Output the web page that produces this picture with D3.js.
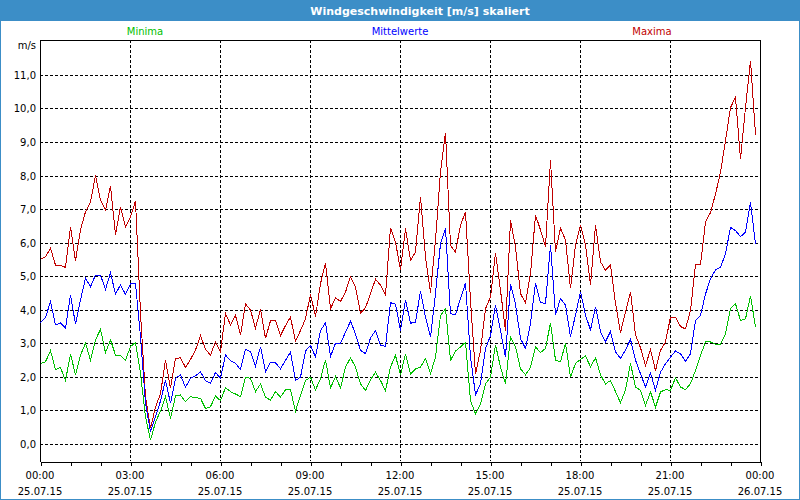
<!DOCTYPE html>
<html>
<head>
<meta charset="utf-8">
<script src="https://cdn.jsdelivr.net/npm/d3@7"></script>
<style>
  html, body { margin: 0; padding: 0; background: #fff; }
  svg { display: block; font-family: "DejaVu Sans", Tahoma, sans-serif; }
</style>
</head>
<body>
<div id="chart"></div>
<script>
// ── Data (10-minute values, 25.07.15 00:00 – 23:50) ───────────────────

const maxima = [
  5.5, 5.58, 5.83, 5.33, 5.33, 5.26, 6.47, 5.46, 6.38, 6.92, 7.22, 8.0, 7.27, 6.97, 7.69, 6.23, 7.07, 6.47, 6.77, 7.24, 3.9, 1.4, 0.47, 1.1, 1.5,
  2.5, 1.66, 2.55, 2.57, 2.28, 2.52, 2.8, 3.23, 2.82, 2.65, 3.05, 2.75, 3.89, 3.55, 3.83, 3.25, 4.17, 3.99, 3.45, 4.02, 3.15, 3.67, 3.67, 3.23,
  3.53, 3.78, 3.06, 3.38, 3.73, 4.46, 3.8, 4.78, 5.4, 4.03, 4.35, 4.25, 4.53, 4.98, 4.68, 3.9, 4.06, 4.48, 4.91, 4.73, 4.43, 6.44, 6.02, 5.19,
  6.42, 5.47, 5.72, 7.36, 5.57, 4.5, 6.07, 8.11, 9.28, 5.92, 5.72, 6.52, 6.92, 4.28, 2.09, 2.79, 4.03, 4.38, 5.69, 4.58, 3.38, 6.67, 5.87, 4.48,
  4.21, 5.08, 6.82, 6.38, 5.88, 8.46, 5.73, 6.43, 6.08, 4.64, 5.93, 6.52, 5.93, 4.74, 6.52, 5.43, 5.18, 5.33, 4.19, 3.32, 3.94, 4.54, 3.25, 2.87,
  2.34, 2.81, 2.19, 2.79, 3.04, 3.78, 3.78, 3.5, 3.43, 3.98, 5.35, 5.35, 6.61, 6.9, 7.45, 8.1, 9.04, 10.03, 10.33, 8.49, 10.03, 11.42, 9.22
];

const mittelwerte = [
  3.61, 3.77, 4.24, 3.55, 3.61, 3.45, 4.44, 3.57, 4.29, 4.94, 4.69, 5.03, 5.03, 4.61, 5.1, 4.47, 4.74, 4.46, 4.77, 4.79, 3.2, 1.21, 0.37, 0.81, 1.28,
  1.9, 1.21, 1.96, 2.06, 1.69, 1.96, 2.03, 2.15, 1.89, 1.81, 2.13, 1.96, 2.65, 2.48, 2.4, 2.22, 2.82, 2.75, 2.32, 2.9, 2.15, 2.43, 2.42, 2.24,
  2.49, 2.74, 1.89, 1.99, 2.77, 2.94, 2.59, 3.38, 3.61, 2.61, 3.0, 3.0, 3.33, 3.66, 3.28, 2.79, 2.69, 3.16, 3.38, 2.94, 2.91, 4.21, 4.17, 3.38,
  4.3, 3.6, 3.63, 4.56, 3.78, 3.18, 4.48, 5.97, 6.42, 3.88, 3.86, 4.33, 4.8, 2.59, 1.47, 1.79, 2.84, 3.23, 4.13, 3.38, 2.59, 4.78, 4.16, 3.14,
  2.85, 3.59, 4.79, 4.21, 4.19, 5.93, 3.84, 4.34, 4.14, 3.2, 3.84, 4.54, 3.84, 3.4, 4.09, 3.35, 3.05, 3.35, 2.75, 2.55, 2.8, 3.12, 2.5, 2.09,
  1.7, 2.11, 1.6, 2.14, 2.39, 2.59, 2.77, 2.69, 2.47, 2.69, 3.68, 3.83, 4.47, 4.92, 5.19, 5.27, 5.66, 6.46, 6.36, 6.18, 6.31, 7.2, 5.96
];

const minima = [
  2.4, 2.45, 2.78, 2.22, 2.28, 1.89, 2.68, 2.06, 2.65, 3.0, 2.5, 3.1, 3.42, 2.72, 3.1, 2.65, 2.63, 2.5, 2.9, 3.03, 2.1, 0.81, 0.12, 0.65, 0.98,
  1.41, 0.76, 1.43, 1.46, 1.26, 1.41, 1.38, 1.36, 1.06, 1.11, 1.43, 1.29, 1.68, 1.56, 1.49, 1.41, 1.99, 1.96, 1.56, 1.79, 1.39, 1.31, 1.56, 1.4,
  1.61, 1.61, 0.98, 1.44, 1.89, 1.99, 1.61, 1.94, 2.51, 1.67, 2.01, 1.67, 2.29, 2.57, 2.29, 1.79, 1.59, 1.91, 2.14, 1.89, 1.59, 2.29, 2.64, 2.05,
  2.69, 2.09, 2.24, 2.29, 2.54, 2.09, 2.59, 3.83, 4.03, 2.49, 2.77, 2.89, 3.03, 1.29, 0.9, 1.19, 1.79, 1.99, 2.96, 2.29, 1.79, 3.2, 2.9, 2.24,
  2.06, 2.28, 2.9, 2.72, 2.85, 3.61, 2.5, 2.45, 3.0, 2.0, 2.4, 2.52, 2.62, 2.3, 2.57, 2.06, 1.79, 1.89, 1.56, 1.23, 1.61, 2.4, 1.7, 1.6,
  1.15, 1.55, 1.1, 1.55, 1.62, 1.6, 1.97, 1.7, 1.62, 1.8, 2.19, 2.64, 3.04, 3.04, 2.97, 2.97, 3.28, 4.03, 4.18, 3.68, 3.73, 4.42, 3.48
];

const tickTimes = ["00:00", "03:00", "06:00", "09:00", "12:00", "15:00", "18:00", "21:00", "00:00"];
const tickDates = ["25.07.15", "25.07.15", "25.07.15", "25.07.15", "25.07.15", "25.07.15", "25.07.15", "25.07.15", "26.07.15"];
const yTicks = [0, 1, 2, 3, 4, 5, 6, 7, 8, 9, 10, 11];

const START = new Date(2015, 6, 25, 0, 0);
const END = new Date(2015, 6, 26, 0, 0);
const times = maxima.map((_, i) => d3.timeMinute.offset(START, 10 * i));

const SERIES = [
  { name: "Maxima",      values: maxima,      color: "#c00000", lx: 652 },
  { name: "Mittelwerte", values: mittelwerte, color: "#0000ff", lx: 400 },
  { name: "Minima",      values: minima,      color: "#00c000", lx: 145 },
];

// ── Frame ──────────────────────────────────────────────────────────────

const W = 800, H = 500;
const P = { l: 40, r: 760, t: 40, b: 461 };

const svg = d3.select("#chart").append("svg").attr("width", W).attr("height", H);

svg.append("rect").attr("width", W).attr("height", H).attr("fill", "#fff");
svg.append("rect").attr("width", W).attr("height", 21).attr("fill", "#3c8ec7");
svg.append("rect").attr("x", 0.5).attr("y", 0.5).attr("width", W - 1).attr("height", H - 1)
  .attr("fill", "none").attr("stroke", "#3c8ec7");

svg.append("text").attr("x", 420).attr("y", 14.5).attr("text-anchor", "middle")
  .attr("fill", "#fff").attr("font-size", 11).attr("font-weight", "bold")
  .text("Windgeschwindigkeit [m/s] skaliert");

// ── Scales ─────────────────────────────────────────────────────────────

const x = d3.scaleTime().domain([START, END]).range([P.l, P.r]);
const y = d3.scaleLinear().domain([-0.507, 12.04]).range([P.b, P.t]);

// ── Grid ───────────────────────────────────────────────────────────────

const grid = svg.append("g").attr("stroke", "#000").attr("stroke-dasharray", "3,2")
  .attr("shape-rendering", "crispEdges");

grid.selectAll("line.h").data(yTicks).join("line").attr("class", "h")
  .attr("x1", P.l).attr("x2", P.r)
  .attr("y1", d => Math.round(y(d)) + 0.5).attr("y2", d => Math.round(y(d)) + 0.5);

const vTicks = d3.timeHour.every(3).range(START, END).slice(1);
grid.selectAll("line.v").data(vTicks).join("line").attr("class", "v")
  .attr("y1", P.t).attr("y2", P.b)
  .attr("x1", d => Math.round(x(d)) + 0.5).attr("x2", d => Math.round(x(d)) + 0.5);

// ── Axes ───────────────────────────────────────────────────────────────

const xAxis = svg.append("g").attr("transform", `translate(0.5,${P.b + 0.5})`)
  .call(d3.axisBottom(x).ticks(d3.timeHour.every(1)).tickSize(4).tickSizeOuter(0).tickFormat(""));
xAxis.select(".domain").attr("stroke", "#000");
xAxis.selectAll(".tick line").attr("stroke", "#000");
xAxis.attr("shape-rendering", "crispEdges");

const labelTicks = d3.timeHour.every(3).range(START, d3.timeMinute.offset(END, 1));
const xl = svg.append("g").attr("font-size", 10).attr("fill", "#000").attr("text-anchor", "middle");
xl.selectAll("text.t").data(labelTicks).join("text").attr("class", "t")
  .attr("x", d => x(d)).attr("y", 479).text((d, i) => tickTimes[i]);
xl.selectAll("text.d").data(labelTicks).join("text").attr("class", "d")
  .attr("x", d => x(d)).attr("y", 495).text((d, i) => tickDates[i]);

const yl = svg.append("g").attr("font-size", 10).attr("fill", "#000").attr("text-anchor", "end");
yl.selectAll("text").data(yTicks).join("text")
  .attr("x", 36).attr("y", d => y(d) + 4)
  .text(d => d3.format(".1f")(d).replace(".", ","));
yl.append("text").attr("x", 36).attr("y", 49).text("m/s");

const frame = svg.append("g").attr("stroke", "#000").attr("shape-rendering", "crispEdges");
frame.append("line").attr("x1", P.l + 0.5).attr("x2", P.l + 0.5).attr("y1", P.t).attr("y2", P.b + 1);
frame.append("line").attr("x1", P.l).attr("x2", P.r + 1).attr("y1", P.t + 0.5).attr("y2", P.t + 0.5);
frame.append("line").attr("x1", P.r + 0.5).attr("x2", P.r + 0.5).attr("y1", P.t).attr("y2", P.b + 1);

// ── Lines ──────────────────────────────────────────────────────────────

const line = d3.line().x((d, i) => x(times[i]) + 0.5).y(d => y(d));

svg.append("g").selectAll("path").data(SERIES).join("path")
  .attr("d", s => line(s.values))
  .attr("fill", "none").attr("stroke", s => s.color).attr("stroke-width", 1)
  .attr("shape-rendering", "crispEdges");

// ── Legend ─────────────────────────────────────────────────────────────

svg.append("g").attr("font-size", 10).attr("text-anchor", "middle")
  .selectAll("text").data(SERIES).join("text")
  .attr("x", s => s.lx).attr("y", 35).attr("fill", s => s.color)
  .text(s => s.name);
</script>
</body>
</html>
